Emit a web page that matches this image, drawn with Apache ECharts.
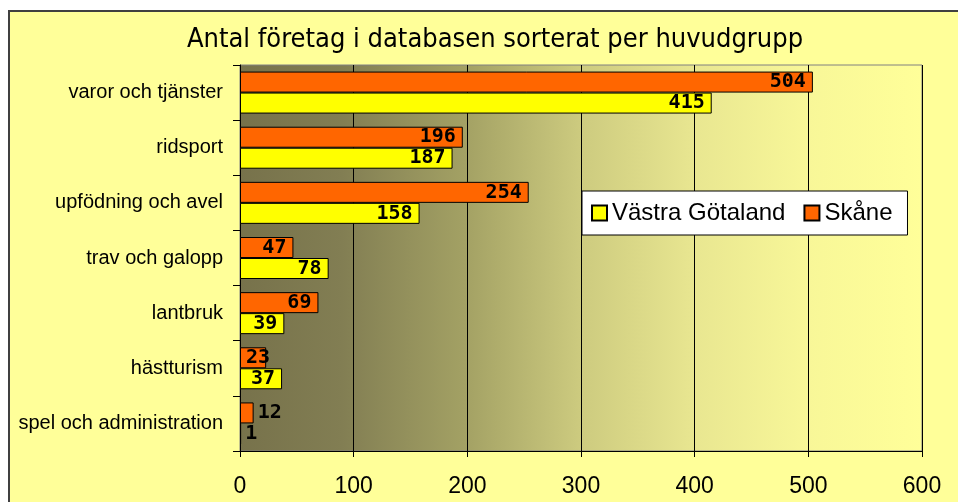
<!DOCTYPE html>
<html>
<head>
<meta charset="utf-8">
<script src="https://cdn.jsdelivr.net/npm/echarts@6/dist/echarts.min.js"></script>
<style>
  html, body { margin: 0; padding: 0; background: #ffffff; }
  #chart { width: 958px; height: 502px; }
</style>
</head>
<body>
<div id="chart"></div>
<script>
const categories = [
  "varor och tjänster",
  "ridsport",
  "upfödning och avel",
  "trav och galopp",
  "lantbruk",
  "hästturism",
  "spel och administration",
];
const skane = [504, 196, 254, 47, 69, 23, 12];
const vastraGotaland = [415, 187, 158, 78, 39, 37, 1];
const xTicks = [0, 100, 200, 300, 400, 500, 600];

const chart = echarts.init(document.getElementById("chart"));

const labelFont = {
  fontFamily: "DejaVu Sans Mono",
  fontWeight: "bold",
  fontSize: 20,
  color: "#000",
};

// small bars get their label outside, like in the original
const withLabels = (values) =>
  values.map((v) => {
    if (v < 20) {
      return { value: v, label: { position: "right", distance: 4 } };
    }
    if (v < 30) {
      return { value: v, label: { position: "insideLeft", distance: 6 } };
    }
    return v;
  });

const option = {
  backgroundColor: "#ffffff",
  animation: false,
  graphic: [
    {
      type: "rect",
      z: -10,
      shape: { x: 9, y: 11, width: 980, height: 520 },
      style: { fill: "#FFFF99", stroke: "#404040", lineWidth: 2 },
    },
  ],
  title: {
    text: "Antal företag i databasen sorterat per huvudgrupp",
    left: 490,
    textAlign: "center",
    top: 21,
    textStyle: {
      fontFamily: "DejaVu Sans Condensed",
      fontWeight: "normal",
      fontSize: 27,
      color: "#000",
    },
  },
  legend: {
    data: ["Västra Götaland", "Skåne"],
    left: 582,
    top: 191,
    icon: "rect",
    itemWidth: 15,
    itemHeight: 15,
    itemGap: 18,
    padding: [10, 15, 10, 9],
    backgroundColor: "#ffffff",
    borderColor: "#000",
    borderWidth: 1,
    textStyle: { fontFamily: "Liberation Sans", fontSize: 24, color: "#000" },
  },
  grid: {
    left: 240,
    right: 36,
    top: 65,
    bottom: 51,
    show: true,
    borderColor: "#808080",
    borderWidth: 1,
    backgroundColor: new echarts.graphic.LinearGradient(0, 0, 1, 0, [
      { offset: 0, color: "#77724B" },
      { offset: 0.15, color: "#827E53" },
      { offset: 0.33, color: "#A3A164" },
      { offset: 0.5, color: "#CDCB7F" },
      { offset: 0.67, color: "#E9E791" },
      { offset: 0.83, color: "#F8F798" },
      { offset: 1, color: "#FFFF99" },
    ]),
  },
  xAxis: {
    type: "value",
    min: xTicks[0],
    max: xTicks[xTicks.length - 1],
    interval: 100,
    axisLine: { show: true, lineStyle: { color: "#000", width: 1 } },
    axisTick: { show: true, length: 6, lineStyle: { color: "#000" } },
    axisLabel: {
      margin: 24,
      fontFamily: "Liberation Sans",
      fontSize: 23,
      color: "#000",
    },
    splitLine: { show: true, lineStyle: { color: "#000", width: 1 } },
  },
  yAxis: {
    type: "category",
    data: categories,
    inverse: true,
    axisLine: { show: true, lineStyle: { color: "#000", width: 1 } },
    axisTick: { show: true, length: 7, lineStyle: { color: "#000" } },
    axisLabel: {
      margin: 17,
      fontFamily: "Liberation Sans",
      fontSize: 20,
      color: "#000",
    },
    splitLine: { show: false },
  },
  series: [
    {
      name: "Skåne",
      type: "bar",
      data: withLabels(skane),
      barWidth: 21,
      barGap: "0%",
      itemStyle: { color: "#FF6600", borderColor: "#000", borderWidth: 1 },
      label: { show: true, position: "insideRight", distance: 7, ...labelFont },
    },
    {
      name: "Västra Götaland",
      type: "bar",
      data: withLabels(vastraGotaland),
      barWidth: 21,
      itemStyle: { color: "#FFFF00", borderColor: "#000", borderWidth: 1 },
      label: { show: true, position: "insideRight", distance: 7, ...labelFont },
    },
  ],
};

chart.setOption(option);
</script>
</body>
</html>
